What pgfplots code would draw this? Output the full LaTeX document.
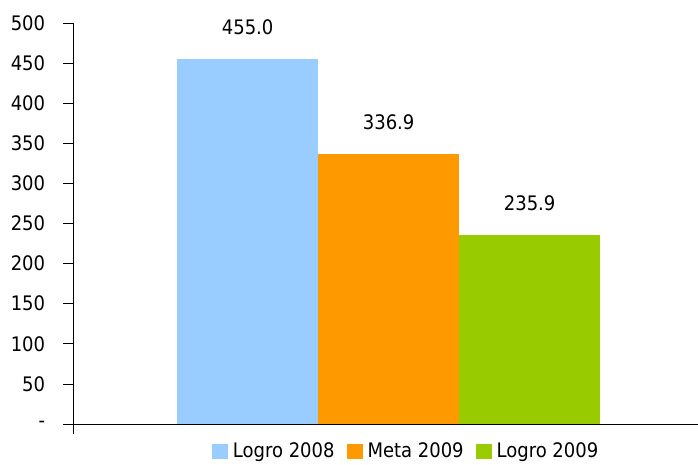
\documentclass[border=0pt]{standalone}
\usepackage{fontspec}
\setmainfont{DejaVu Sans Condensed}
\usepackage{pgfplots}
\pgfplotsset{compat=1.18}
\definecolor{cblue}{HTML}{99CCFF}
\definecolor{corange}{HTML}{FF9900}
\definecolor{cgreen}{HTML}{99CC00}
\newcommand{\chartfont}{\fontsize{20pt}{23pt}\selectfont}
\begin{document}
\chartfont
\begin{tikzpicture}
\path[use as bounding box] (-73pt,-40pt) rectangle (625pt,424pt);
\begin{axis}[
  at={(0pt,0pt)}, anchor=south west,
  scale only axis, width=625pt, height=401pt,
  xmin=0, xmax=1, ymin=0, ymax=500,
  axis x line=bottom, axis y line=left,
  axis line style={-, line width=0.8pt, black},
  every tick/.style={black, line width=0.8pt},
  tick align=outside, major tick length=10pt,
  ytick={0,50,...,500},
  yticklabels={-,50,100,150,200,250,300,350,400,450,500},
  yticklabel style={font=\chartfont, xshift=-11pt},
  xtick={0,1}, xticklabels={},
  ybar=0pt, bar width=141pt,
  nodes near coords,
  every node near coord/.append style={font=\chartfont, anchor=south, yshift=17pt, black},
  /pgf/number format/fixed, /pgf/number format/fixed zerofill,
  /pgf/number format/precision=1, /pgf/number format/assume math mode=true,
  legend style={at={(0.533,0)}, anchor=center, yshift=-28pt, draw=none,
    font=\chartfont, legend columns=3,
    /tikz/every odd column/.append style={column sep=3pt},
    /tikz/every even column/.append style={column sep=10pt}},
  legend image code/.code={\path[#1] (0pt,-7pt) rectangle (16pt,8pt);},
  clip=false,
]
\addplot[fill=cblue, draw=none] coordinates {(0.505,455.0)};
\addplot[fill=corange, draw=none] coordinates {(0.505,336.9)};
\addplot[fill=cgreen, draw=none] coordinates {(0.505,235.9)};
\legend{Logro 2008, Meta 2009, Logro 2009}
\end{axis}
\end{tikzpicture}
\end{document}
